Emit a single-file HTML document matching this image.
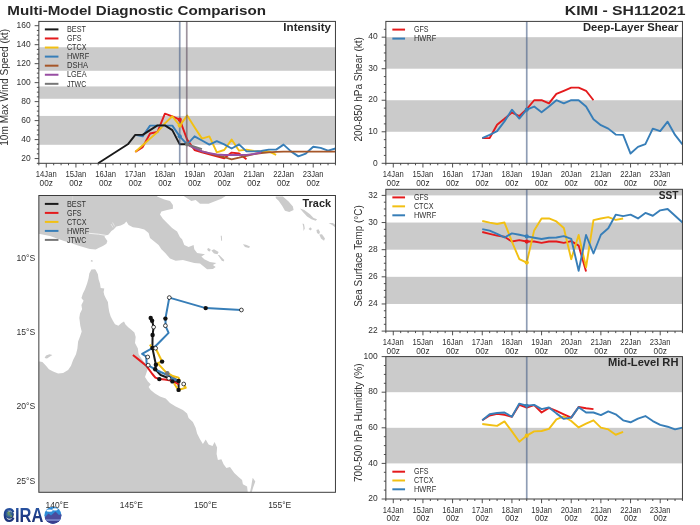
<!DOCTYPE html>
<html><head><meta charset="utf-8"><title>Multi-Model Diagnostic Comparison - KIMI SH112021</title>
<style>
html,body{margin:0;padding:0;background:#fff;}
body{width:700px;height:525px;overflow:hidden;}
svg{display:block;font-family:"Liberation Sans",sans-serif;transform:translateZ(0);will-change:transform;}
</style></head><body>
<svg width="700" height="525" viewBox="0 0 700 525">
<rect x="0" y="0" width="700" height="525" fill="#ffffff"/>
<text x="7.30" y="14.70" font-size="13.67" text-anchor="start" textLength="258.72" lengthAdjust="spacingAndGlyphs" fill="#262626" font-weight="bold">Multi-Model Diagnostic Comparison</text>
<text x="685.60" y="14.70" font-size="13.67" text-anchor="end" textLength="120.71" lengthAdjust="spacingAndGlyphs" fill="#262626" font-weight="bold">KIMI - SH112021</text>
<rect x="38.85" y="115.94" width="296.60" height="28.85" fill="#cbcbcb"/>
<rect x="38.85" y="86.43" width="296.60" height="12.34" fill="#cbcbcb"/>
<rect x="38.85" y="47.24" width="296.60" height="23.54" fill="#cbcbcb"/>
<path d="M135.25 151.91 L142.66 147.17 L150.07 133.50 L157.49 131.98 L164.91 113.67 L172.32 116.32 L179.73 119.65 L187.15 139.58 L194.56 150.01 L201.98 152.39 L209.39 154.28 L216.81 156.37 L224.22 158.27 L231.64 152.58 L239.06 153.53 L246.47 159.31" stroke="#e41a1c" stroke-width="1.9" fill="none" stroke-linejoin="round" stroke-linecap="butt" />
<path d="M135.25 151.91 L142.66 145.27 L150.07 138.63 L157.49 131.98 L164.91 123.44 L172.32 116.23 L179.73 125.62 L187.15 115.57 L194.56 127.24 L201.98 138.63 L209.39 136.35 L216.81 152.39 L224.22 150.01 L231.64 139.58 L239.06 150.68 L246.47 149.63 L253.88 150.96 L261.30 151.44 L268.72 151.44 L276.13 154.76" stroke="#f2c013" stroke-width="1.9" fill="none" stroke-linejoin="round" stroke-linecap="butt" />
<path d="M135.25 134.83 L142.66 136.35 L150.07 125.62 L157.49 125.62 L164.91 125.62 L172.32 125.62 L179.73 136.35 L187.15 144.32 L194.56 136.35 L201.98 140.52 L209.39 144.60 L216.81 141.09 L224.22 144.32 L231.64 148.50 L239.06 144.32 L246.47 151.34 L253.88 151.34 L261.30 150.96 L268.72 149.63 L276.13 149.63 L283.55 144.60 L290.96 151.34 L298.38 156.37 L305.79 153.53 L313.21 146.79 L320.62 147.83 L328.04 150.68 L335.45 148.50" stroke="#377eb8" stroke-width="1.9" fill="none" stroke-linejoin="round" stroke-linecap="butt" />
<path d="M187.15 144.32 L194.56 148.12 L201.98 151.34 L209.39 153.34 L216.81 155.23 L224.22 157.13 L231.64 159.31 L239.06 157.61 L246.47 155.71 L253.88 154.09 L261.30 153.05 L268.72 152.39 L276.13 151.91 L283.55 151.63 L290.96 151.63 L298.38 151.63 L305.79 151.63 L313.21 151.63 L320.62 151.63 L328.04 151.63 L335.45 151.63" stroke="#a65628" stroke-width="1.9" fill="none" stroke-linejoin="round" stroke-linecap="butt" />
<path d="M187.15 144.32 L194.56 148.12 L201.98 151.34 L209.39 153.15 L216.81 154.47 L224.22 154.95 L231.64 154.95 L239.06 154.95 L246.47 154.85 L253.88 154.00 L261.30 152.39" stroke="#984ea3" stroke-width="1.9" fill="none" stroke-linejoin="round" stroke-linecap="butt" />
<path d="M187.15 144.32 L194.56 146.69 L201.98 149.06" stroke="#777777" stroke-width="1.9" fill="none" stroke-linejoin="round" stroke-linecap="butt" />
<path d="M98.17 163.30 L105.59 158.56 L113.00 153.81 L120.41 149.06 L127.83 144.32 L135.25 134.83 L142.66 134.83 L150.07 130.09 L157.49 125.34 L164.91 125.34 L172.32 130.09 L179.73 144.32 L187.15 144.32" stroke="#1a1a1a" stroke-width="1.9" fill="none" stroke-linejoin="round" stroke-linecap="butt" />
<path d="M179.73 21.40V163.30" stroke="rgba(78,100,138,0.63)" stroke-width="1.7" fill="none"/>
<path d="M186.75 21.40V163.30" stroke="rgba(98,82,98,0.62)" stroke-width="1.7" fill="none"/>
<circle cx="179.73" cy="119.65" r="2.1" fill="#e41a1c"/>
<circle cx="179.73" cy="125.62" r="2.1" fill="#f2c013"/>
<circle cx="179.73" cy="136.35" r="2.1" fill="#377eb8"/>
<circle cx="187.15" cy="144.32" r="2.1" fill="#777777"/>
<rect x="38.85" y="21.40" width="296.60" height="141.90" fill="none" stroke="#3c3c3c" stroke-width="1"/>
<path d="M38.85 163.30v2.0M46.27 163.30v4.2M53.68 163.30v2.0M61.09 163.30v2.0M68.51 163.30v2.0M75.93 163.30v4.2M83.34 163.30v2.0M90.75 163.30v2.0M98.17 163.30v2.0M105.59 163.30v4.2M113.00 163.30v2.0M120.41 163.30v2.0M127.83 163.30v2.0M135.25 163.30v4.2M142.66 163.30v2.0M150.07 163.30v2.0M157.49 163.30v2.0M164.91 163.30v4.2M172.32 163.30v2.0M179.73 163.30v2.0M187.15 163.30v2.0M194.56 163.30v4.2M201.98 163.30v2.0M209.39 163.30v2.0M216.81 163.30v2.0M224.22 163.30v4.2M231.64 163.30v2.0M239.06 163.30v2.0M246.47 163.30v2.0M253.88 163.30v4.2M261.30 163.30v2.0M268.72 163.30v2.0M276.13 163.30v2.0M283.55 163.30v4.2M290.96 163.30v2.0M298.38 163.30v2.0M305.79 163.30v2.0M313.21 163.30v4.2M320.62 163.30v2.0M328.04 163.30v2.0M335.45 163.30v2.0" stroke="#3c3c3c" stroke-width="0.9" fill="none"/>
<text x="46.27" y="176.80" font-size="8.36" text-anchor="middle" textLength="20.82" lengthAdjust="spacingAndGlyphs" fill="#303030">14Jan</text>
<text x="46.27" y="185.70" font-size="8.36" text-anchor="middle" textLength="13.30" lengthAdjust="spacingAndGlyphs" fill="#303030">00z</text>
<text x="75.93" y="176.80" font-size="8.36" text-anchor="middle" textLength="20.82" lengthAdjust="spacingAndGlyphs" fill="#303030">15Jan</text>
<text x="75.93" y="185.70" font-size="8.36" text-anchor="middle" textLength="13.30" lengthAdjust="spacingAndGlyphs" fill="#303030">00z</text>
<text x="105.59" y="176.80" font-size="8.36" text-anchor="middle" textLength="20.82" lengthAdjust="spacingAndGlyphs" fill="#303030">16Jan</text>
<text x="105.59" y="185.70" font-size="8.36" text-anchor="middle" textLength="13.30" lengthAdjust="spacingAndGlyphs" fill="#303030">00z</text>
<text x="135.25" y="176.80" font-size="8.36" text-anchor="middle" textLength="20.82" lengthAdjust="spacingAndGlyphs" fill="#303030">17Jan</text>
<text x="135.25" y="185.70" font-size="8.36" text-anchor="middle" textLength="13.30" lengthAdjust="spacingAndGlyphs" fill="#303030">00z</text>
<text x="164.91" y="176.80" font-size="8.36" text-anchor="middle" textLength="20.82" lengthAdjust="spacingAndGlyphs" fill="#303030">18Jan</text>
<text x="164.91" y="185.70" font-size="8.36" text-anchor="middle" textLength="13.30" lengthAdjust="spacingAndGlyphs" fill="#303030">00z</text>
<text x="194.56" y="176.80" font-size="8.36" text-anchor="middle" textLength="20.82" lengthAdjust="spacingAndGlyphs" fill="#303030">19Jan</text>
<text x="194.56" y="185.70" font-size="8.36" text-anchor="middle" textLength="13.30" lengthAdjust="spacingAndGlyphs" fill="#303030">00z</text>
<text x="224.22" y="176.80" font-size="8.36" text-anchor="middle" textLength="20.82" lengthAdjust="spacingAndGlyphs" fill="#303030">20Jan</text>
<text x="224.22" y="185.70" font-size="8.36" text-anchor="middle" textLength="13.30" lengthAdjust="spacingAndGlyphs" fill="#303030">00z</text>
<text x="253.88" y="176.80" font-size="8.36" text-anchor="middle" textLength="20.82" lengthAdjust="spacingAndGlyphs" fill="#303030">21Jan</text>
<text x="253.88" y="185.70" font-size="8.36" text-anchor="middle" textLength="13.30" lengthAdjust="spacingAndGlyphs" fill="#303030">00z</text>
<text x="283.55" y="176.80" font-size="8.36" text-anchor="middle" textLength="20.82" lengthAdjust="spacingAndGlyphs" fill="#303030">22Jan</text>
<text x="283.55" y="185.70" font-size="8.36" text-anchor="middle" textLength="13.30" lengthAdjust="spacingAndGlyphs" fill="#303030">00z</text>
<text x="313.21" y="176.80" font-size="8.36" text-anchor="middle" textLength="20.82" lengthAdjust="spacingAndGlyphs" fill="#303030">23Jan</text>
<text x="313.21" y="185.70" font-size="8.36" text-anchor="middle" textLength="13.30" lengthAdjust="spacingAndGlyphs" fill="#303030">00z</text>
<path d="M38.85 158.56h-4.2M38.85 139.58h-4.2M38.85 120.60h-4.2M38.85 101.62h-4.2M38.85 82.64h-4.2M38.85 63.66h-4.2M38.85 44.68h-4.2M38.85 25.70h-4.2M38.85 163.30h-2.0M38.85 153.81h-2.0M38.85 149.06h-2.0M38.85 144.32h-2.0M38.85 134.83h-2.0M38.85 130.09h-2.0M38.85 125.34h-2.0M38.85 115.85h-2.0M38.85 111.11h-2.0M38.85 106.36h-2.0M38.85 96.87h-2.0M38.85 92.13h-2.0M38.85 87.38h-2.0M38.85 77.89h-2.0M38.85 73.15h-2.0M38.85 68.40h-2.0M38.85 58.91h-2.0M38.85 54.17h-2.0M38.85 49.42h-2.0M38.85 39.93h-2.0M38.85 35.19h-2.0M38.85 30.44h-2.0" stroke="#3c3c3c" stroke-width="0.9" fill="none"/>
<text x="30.65" y="160.75" font-size="8.36" text-anchor="end" textLength="9.42" lengthAdjust="spacingAndGlyphs" fill="#303030">20</text>
<text x="30.65" y="141.78" font-size="8.36" text-anchor="end" textLength="9.42" lengthAdjust="spacingAndGlyphs" fill="#303030">40</text>
<text x="30.65" y="122.80" font-size="8.36" text-anchor="end" textLength="9.42" lengthAdjust="spacingAndGlyphs" fill="#303030">60</text>
<text x="30.65" y="103.82" font-size="8.36" text-anchor="end" textLength="9.42" lengthAdjust="spacingAndGlyphs" fill="#303030">80</text>
<text x="30.65" y="84.84" font-size="8.36" text-anchor="end" textLength="14.12" lengthAdjust="spacingAndGlyphs" fill="#303030">100</text>
<text x="30.65" y="65.86" font-size="8.36" text-anchor="end" textLength="14.12" lengthAdjust="spacingAndGlyphs" fill="#303030">120</text>
<text x="30.65" y="46.88" font-size="8.36" text-anchor="end" textLength="14.12" lengthAdjust="spacingAndGlyphs" fill="#303030">140</text>
<text x="30.65" y="27.90" font-size="8.36" text-anchor="end" textLength="14.12" lengthAdjust="spacingAndGlyphs" fill="#303030">160</text>
<path d="M44.85 29.40H58.45" stroke="#1a1a1a" stroke-width="2.0" fill="none"/>
<text x="66.95" y="32.10" font-size="8.36" text-anchor="start" textLength="18.97" lengthAdjust="spacingAndGlyphs" fill="#303030">BEST</text>
<path d="M44.85 38.47H58.45" stroke="#e41a1c" stroke-width="2.0" fill="none"/>
<text x="66.95" y="41.17" font-size="8.36" text-anchor="start" textLength="14.56" lengthAdjust="spacingAndGlyphs" fill="#303030">GFS</text>
<path d="M44.85 47.54H58.45" stroke="#f2c013" stroke-width="2.0" fill="none"/>
<text x="66.95" y="50.24" font-size="8.36" text-anchor="start" textLength="19.49" lengthAdjust="spacingAndGlyphs" fill="#303030">CTCX</text>
<path d="M44.85 56.61H58.45" stroke="#377eb8" stroke-width="2.0" fill="none"/>
<text x="66.95" y="59.31" font-size="8.36" text-anchor="start" textLength="22.28" lengthAdjust="spacingAndGlyphs" fill="#303030">HWRF</text>
<path d="M44.85 65.68H58.45" stroke="#a65628" stroke-width="2.0" fill="none"/>
<text x="66.95" y="68.38" font-size="8.36" text-anchor="start" textLength="21.02" lengthAdjust="spacingAndGlyphs" fill="#303030">DSHA</text>
<path d="M44.85 74.75H58.45" stroke="#984ea3" stroke-width="2.0" fill="none"/>
<text x="66.95" y="77.45" font-size="8.36" text-anchor="start" textLength="19.59" lengthAdjust="spacingAndGlyphs" fill="#303030">LGEA</text>
<path d="M44.85 83.82H58.45" stroke="#777777" stroke-width="2.0" fill="none"/>
<text x="66.95" y="86.52" font-size="8.36" text-anchor="start" textLength="19.19" lengthAdjust="spacingAndGlyphs" fill="#303030">JTWC</text>
<text x="331.05" y="30.60" font-size="10.36" text-anchor="end" textLength="47.69" lengthAdjust="spacingAndGlyphs" fill="#262626" font-weight="bold">Intensity</text>
<text x="8.10" y="87.40" font-size="10.17" text-anchor="middle" textLength="116.86" lengthAdjust="spacingAndGlyphs" fill="#303030" transform="rotate(-90 8.10 87.40)">10m Max Wind Speed (kt)</text>
<rect x="385.85" y="100.24" width="296.60" height="31.53" fill="#cbcbcb"/>
<rect x="385.85" y="37.18" width="296.60" height="31.53" fill="#cbcbcb"/>
<path d="M482.25 138.08 L489.66 138.08 L497.08 124.83 L504.49 118.84 L511.91 112.54 L519.32 116.01 L526.74 109.07 L534.15 100.24 L541.57 100.24 L548.98 103.39 L556.39 93.93 L563.81 90.78 L571.23 87.63 L578.64 87.63 L586.06 90.78 L593.47 100.24" stroke="#e41a1c" stroke-width="1.9" fill="none" stroke-linejoin="round" stroke-linecap="butt" />
<path d="M482.25 138.08 L489.66 134.92 L497.08 131.14 L504.49 121.37 L511.91 109.70 L519.32 118.53 L526.74 109.70 L534.15 106.55 L541.57 112.22 L548.98 106.55 L556.39 100.24 L563.81 103.39 L571.23 100.24 L578.64 100.24 L586.06 106.55 L593.47 119.16 L600.88 125.15 L608.30 128.62 L615.72 134.61 L623.13 134.92 L630.55 153.53 L637.96 146.90 L645.38 144.07 L652.79 128.62 L660.21 131.14 L667.62 121.68 L675.04 134.92 L682.45 144.38" stroke="#377eb8" stroke-width="1.9" fill="none" stroke-linejoin="round" stroke-linecap="butt" />
<path d="M526.74 21.40V163.30" stroke="rgba(78,100,138,0.63)" stroke-width="1.7" fill="none"/>
<circle cx="526.74" cy="109.70" r="2.1" fill="#377eb8"/>
<rect x="385.85" y="21.40" width="296.60" height="141.90" fill="none" stroke="#3c3c3c" stroke-width="1"/>
<path d="M385.85 163.30v2.0M393.27 163.30v4.2M400.68 163.30v2.0M408.10 163.30v2.0M415.51 163.30v2.0M422.93 163.30v4.2M430.34 163.30v2.0M437.75 163.30v2.0M445.17 163.30v2.0M452.59 163.30v4.2M460.00 163.30v2.0M467.42 163.30v2.0M474.83 163.30v2.0M482.25 163.30v4.2M489.66 163.30v2.0M497.08 163.30v2.0M504.49 163.30v2.0M511.91 163.30v4.2M519.32 163.30v2.0M526.74 163.30v2.0M534.15 163.30v2.0M541.57 163.30v4.2M548.98 163.30v2.0M556.39 163.30v2.0M563.81 163.30v2.0M571.23 163.30v4.2M578.64 163.30v2.0M586.06 163.30v2.0M593.47 163.30v2.0M600.88 163.30v4.2M608.30 163.30v2.0M615.72 163.30v2.0M623.13 163.30v2.0M630.55 163.30v4.2M637.96 163.30v2.0M645.38 163.30v2.0M652.79 163.30v2.0M660.21 163.30v4.2M667.62 163.30v2.0M675.04 163.30v2.0M682.45 163.30v2.0" stroke="#3c3c3c" stroke-width="0.9" fill="none"/>
<text x="393.27" y="176.80" font-size="8.36" text-anchor="middle" textLength="20.82" lengthAdjust="spacingAndGlyphs" fill="#303030">14Jan</text>
<text x="393.27" y="185.70" font-size="8.36" text-anchor="middle" textLength="13.30" lengthAdjust="spacingAndGlyphs" fill="#303030">00z</text>
<text x="422.93" y="176.80" font-size="8.36" text-anchor="middle" textLength="20.82" lengthAdjust="spacingAndGlyphs" fill="#303030">15Jan</text>
<text x="422.93" y="185.70" font-size="8.36" text-anchor="middle" textLength="13.30" lengthAdjust="spacingAndGlyphs" fill="#303030">00z</text>
<text x="452.59" y="176.80" font-size="8.36" text-anchor="middle" textLength="20.82" lengthAdjust="spacingAndGlyphs" fill="#303030">16Jan</text>
<text x="452.59" y="185.70" font-size="8.36" text-anchor="middle" textLength="13.30" lengthAdjust="spacingAndGlyphs" fill="#303030">00z</text>
<text x="482.25" y="176.80" font-size="8.36" text-anchor="middle" textLength="20.82" lengthAdjust="spacingAndGlyphs" fill="#303030">17Jan</text>
<text x="482.25" y="185.70" font-size="8.36" text-anchor="middle" textLength="13.30" lengthAdjust="spacingAndGlyphs" fill="#303030">00z</text>
<text x="511.91" y="176.80" font-size="8.36" text-anchor="middle" textLength="20.82" lengthAdjust="spacingAndGlyphs" fill="#303030">18Jan</text>
<text x="511.91" y="185.70" font-size="8.36" text-anchor="middle" textLength="13.30" lengthAdjust="spacingAndGlyphs" fill="#303030">00z</text>
<text x="541.57" y="176.80" font-size="8.36" text-anchor="middle" textLength="20.82" lengthAdjust="spacingAndGlyphs" fill="#303030">19Jan</text>
<text x="541.57" y="185.70" font-size="8.36" text-anchor="middle" textLength="13.30" lengthAdjust="spacingAndGlyphs" fill="#303030">00z</text>
<text x="571.23" y="176.80" font-size="8.36" text-anchor="middle" textLength="20.82" lengthAdjust="spacingAndGlyphs" fill="#303030">20Jan</text>
<text x="571.23" y="185.70" font-size="8.36" text-anchor="middle" textLength="13.30" lengthAdjust="spacingAndGlyphs" fill="#303030">00z</text>
<text x="600.88" y="176.80" font-size="8.36" text-anchor="middle" textLength="20.82" lengthAdjust="spacingAndGlyphs" fill="#303030">21Jan</text>
<text x="600.88" y="185.70" font-size="8.36" text-anchor="middle" textLength="13.30" lengthAdjust="spacingAndGlyphs" fill="#303030">00z</text>
<text x="630.55" y="176.80" font-size="8.36" text-anchor="middle" textLength="20.82" lengthAdjust="spacingAndGlyphs" fill="#303030">22Jan</text>
<text x="630.55" y="185.70" font-size="8.36" text-anchor="middle" textLength="13.30" lengthAdjust="spacingAndGlyphs" fill="#303030">00z</text>
<text x="660.21" y="176.80" font-size="8.36" text-anchor="middle" textLength="20.82" lengthAdjust="spacingAndGlyphs" fill="#303030">23Jan</text>
<text x="660.21" y="185.70" font-size="8.36" text-anchor="middle" textLength="13.30" lengthAdjust="spacingAndGlyphs" fill="#303030">00z</text>
<path d="M385.85 163.30h-4.2M385.85 131.77h-4.2M385.85 100.24h-4.2M385.85 68.71h-4.2M385.85 37.18h-4.2M385.85 155.42h-2.0M385.85 147.54h-2.0M385.85 139.65h-2.0M385.85 123.89h-2.0M385.85 116.01h-2.0M385.85 108.12h-2.0M385.85 92.36h-2.0M385.85 84.48h-2.0M385.85 76.59h-2.0M385.85 60.83h-2.0M385.85 52.95h-2.0M385.85 45.06h-2.0M385.85 29.30h-2.0" stroke="#3c3c3c" stroke-width="0.9" fill="none"/>
<text x="377.65" y="165.50" font-size="8.36" text-anchor="end" textLength="4.71" lengthAdjust="spacingAndGlyphs" fill="#303030">0</text>
<text x="377.65" y="133.97" font-size="8.36" text-anchor="end" textLength="9.42" lengthAdjust="spacingAndGlyphs" fill="#303030">10</text>
<text x="377.65" y="102.44" font-size="8.36" text-anchor="end" textLength="9.42" lengthAdjust="spacingAndGlyphs" fill="#303030">20</text>
<text x="377.65" y="70.91" font-size="8.36" text-anchor="end" textLength="9.42" lengthAdjust="spacingAndGlyphs" fill="#303030">30</text>
<text x="377.65" y="39.38" font-size="8.36" text-anchor="end" textLength="9.42" lengthAdjust="spacingAndGlyphs" fill="#303030">40</text>
<path d="M392.35 29.60H405.05" stroke="#e41a1c" stroke-width="2.0" fill="none"/>
<text x="413.95" y="32.30" font-size="8.36" text-anchor="start" textLength="14.56" lengthAdjust="spacingAndGlyphs" fill="#303030">GFS</text>
<path d="M392.35 38.60H405.05" stroke="#377eb8" stroke-width="2.0" fill="none"/>
<text x="413.95" y="41.30" font-size="8.36" text-anchor="start" textLength="22.28" lengthAdjust="spacingAndGlyphs" fill="#303030">HWRF</text>
<text x="678.45" y="30.60" font-size="10.36" text-anchor="end" textLength="95.46" lengthAdjust="spacingAndGlyphs" fill="#262626" font-weight="bold">Deep-Layer Shear</text>
<text x="361.90" y="89.30" font-size="10.17" text-anchor="middle" textLength="104.36" lengthAdjust="spacingAndGlyphs" fill="#303030" transform="rotate(-90 361.90 89.30)">200-850 hPa Shear (kt)</text>
<rect x="385.85" y="276.82" width="296.60" height="27.14" fill="#cbcbcb"/>
<rect x="385.85" y="222.54" width="296.60" height="27.14" fill="#cbcbcb"/>
<rect x="385.85" y="189.30" width="296.60" height="6.10" fill="#cbcbcb"/>
<path d="M482.25 232.04 L489.66 233.80 L497.08 235.57 L504.49 236.79 L511.91 241.54 L519.32 240.18 L526.74 241.54 L534.15 241.54 L541.57 242.90 L548.98 241.54 L556.39 241.54 L563.81 242.90 L571.23 241.13 L578.64 245.61 L586.06 271.39" stroke="#e41a1c" stroke-width="1.9" fill="none" stroke-linejoin="round" stroke-linecap="butt" />
<path d="M482.25 221.05 L489.66 222.68 L497.08 224.03 L504.49 222.54 L511.91 241.54 L519.32 259.18 L526.74 262.57 L534.15 230.41 L541.57 218.47 L548.98 218.47 L556.39 221.45 L563.81 227.97 L571.23 259.18 L578.64 235.02 L586.06 267.32 L593.47 220.10 L600.88 218.47 L608.30 217.11 L615.72 219.83 L623.13 218.47" stroke="#f2c013" stroke-width="1.9" fill="none" stroke-linejoin="round" stroke-linecap="butt" />
<path d="M482.25 229.19 L489.66 230.68 L497.08 233.80 L504.49 237.47 L511.91 233.40 L519.32 234.75 L526.74 236.38 L534.15 237.74 L541.57 238.96 L548.98 237.74 L556.39 237.47 L563.81 236.11 L571.23 238.82 L578.64 270.71 L586.06 235.02 L593.47 253.48 L600.88 234.75 L608.30 228.24 L615.72 214.67 L623.13 216.16 L630.55 214.67 L637.96 218.47 L645.38 212.91 L652.79 215.76 L660.21 210.33 L667.62 208.97 L675.04 215.76 L682.45 222.54" stroke="#377eb8" stroke-width="1.9" fill="none" stroke-linejoin="round" stroke-linecap="butt" />
<path d="M526.74 189.30V331.10" stroke="rgba(78,100,138,0.63)" stroke-width="1.7" fill="none"/>
<circle cx="526.74" cy="241.54" r="2.1" fill="#e41a1c"/>
<circle cx="526.74" cy="262.57" r="2.1" fill="#f2c013"/>
<circle cx="526.74" cy="236.38" r="2.1" fill="#377eb8"/>
<rect x="385.85" y="189.30" width="296.60" height="141.80" fill="none" stroke="#3c3c3c" stroke-width="1"/>
<path d="M385.85 331.10v2.0M393.27 331.10v4.2M400.68 331.10v2.0M408.10 331.10v2.0M415.51 331.10v2.0M422.93 331.10v4.2M430.34 331.10v2.0M437.75 331.10v2.0M445.17 331.10v2.0M452.59 331.10v4.2M460.00 331.10v2.0M467.42 331.10v2.0M474.83 331.10v2.0M482.25 331.10v4.2M489.66 331.10v2.0M497.08 331.10v2.0M504.49 331.10v2.0M511.91 331.10v4.2M519.32 331.10v2.0M526.74 331.10v2.0M534.15 331.10v2.0M541.57 331.10v4.2M548.98 331.10v2.0M556.39 331.10v2.0M563.81 331.10v2.0M571.23 331.10v4.2M578.64 331.10v2.0M586.06 331.10v2.0M593.47 331.10v2.0M600.88 331.10v4.2M608.30 331.10v2.0M615.72 331.10v2.0M623.13 331.10v2.0M630.55 331.10v4.2M637.96 331.10v2.0M645.38 331.10v2.0M652.79 331.10v2.0M660.21 331.10v4.2M667.62 331.10v2.0M675.04 331.10v2.0M682.45 331.10v2.0" stroke="#3c3c3c" stroke-width="0.9" fill="none"/>
<text x="393.27" y="344.60" font-size="8.36" text-anchor="middle" textLength="20.82" lengthAdjust="spacingAndGlyphs" fill="#303030">14Jan</text>
<text x="393.27" y="353.50" font-size="8.36" text-anchor="middle" textLength="13.30" lengthAdjust="spacingAndGlyphs" fill="#303030">00z</text>
<text x="422.93" y="344.60" font-size="8.36" text-anchor="middle" textLength="20.82" lengthAdjust="spacingAndGlyphs" fill="#303030">15Jan</text>
<text x="422.93" y="353.50" font-size="8.36" text-anchor="middle" textLength="13.30" lengthAdjust="spacingAndGlyphs" fill="#303030">00z</text>
<text x="452.59" y="344.60" font-size="8.36" text-anchor="middle" textLength="20.82" lengthAdjust="spacingAndGlyphs" fill="#303030">16Jan</text>
<text x="452.59" y="353.50" font-size="8.36" text-anchor="middle" textLength="13.30" lengthAdjust="spacingAndGlyphs" fill="#303030">00z</text>
<text x="482.25" y="344.60" font-size="8.36" text-anchor="middle" textLength="20.82" lengthAdjust="spacingAndGlyphs" fill="#303030">17Jan</text>
<text x="482.25" y="353.50" font-size="8.36" text-anchor="middle" textLength="13.30" lengthAdjust="spacingAndGlyphs" fill="#303030">00z</text>
<text x="511.91" y="344.60" font-size="8.36" text-anchor="middle" textLength="20.82" lengthAdjust="spacingAndGlyphs" fill="#303030">18Jan</text>
<text x="511.91" y="353.50" font-size="8.36" text-anchor="middle" textLength="13.30" lengthAdjust="spacingAndGlyphs" fill="#303030">00z</text>
<text x="541.57" y="344.60" font-size="8.36" text-anchor="middle" textLength="20.82" lengthAdjust="spacingAndGlyphs" fill="#303030">19Jan</text>
<text x="541.57" y="353.50" font-size="8.36" text-anchor="middle" textLength="13.30" lengthAdjust="spacingAndGlyphs" fill="#303030">00z</text>
<text x="571.23" y="344.60" font-size="8.36" text-anchor="middle" textLength="20.82" lengthAdjust="spacingAndGlyphs" fill="#303030">20Jan</text>
<text x="571.23" y="353.50" font-size="8.36" text-anchor="middle" textLength="13.30" lengthAdjust="spacingAndGlyphs" fill="#303030">00z</text>
<text x="600.88" y="344.60" font-size="8.36" text-anchor="middle" textLength="20.82" lengthAdjust="spacingAndGlyphs" fill="#303030">21Jan</text>
<text x="600.88" y="353.50" font-size="8.36" text-anchor="middle" textLength="13.30" lengthAdjust="spacingAndGlyphs" fill="#303030">00z</text>
<text x="630.55" y="344.60" font-size="8.36" text-anchor="middle" textLength="20.82" lengthAdjust="spacingAndGlyphs" fill="#303030">22Jan</text>
<text x="630.55" y="353.50" font-size="8.36" text-anchor="middle" textLength="13.30" lengthAdjust="spacingAndGlyphs" fill="#303030">00z</text>
<text x="660.21" y="344.60" font-size="8.36" text-anchor="middle" textLength="20.82" lengthAdjust="spacingAndGlyphs" fill="#303030">23Jan</text>
<text x="660.21" y="353.50" font-size="8.36" text-anchor="middle" textLength="13.30" lengthAdjust="spacingAndGlyphs" fill="#303030">00z</text>
<path d="M385.85 331.10h-4.2M385.85 303.96h-4.2M385.85 276.82h-4.2M385.85 249.68h-4.2M385.85 222.54h-4.2M385.85 195.40h-4.2M385.85 324.31h-2.0M385.85 317.53h-2.0M385.85 310.75h-2.0M385.85 297.18h-2.0M385.85 290.39h-2.0M385.85 283.61h-2.0M385.85 270.04h-2.0M385.85 263.25h-2.0M385.85 256.47h-2.0M385.85 242.90h-2.0M385.85 236.11h-2.0M385.85 229.33h-2.0M385.85 215.76h-2.0M385.85 208.97h-2.0M385.85 202.19h-2.0" stroke="#3c3c3c" stroke-width="0.9" fill="none"/>
<text x="377.65" y="333.30" font-size="8.36" text-anchor="end" textLength="9.42" lengthAdjust="spacingAndGlyphs" fill="#303030">22</text>
<text x="377.65" y="306.16" font-size="8.36" text-anchor="end" textLength="9.42" lengthAdjust="spacingAndGlyphs" fill="#303030">24</text>
<text x="377.65" y="279.02" font-size="8.36" text-anchor="end" textLength="9.42" lengthAdjust="spacingAndGlyphs" fill="#303030">26</text>
<text x="377.65" y="251.88" font-size="8.36" text-anchor="end" textLength="9.42" lengthAdjust="spacingAndGlyphs" fill="#303030">28</text>
<text x="377.65" y="224.74" font-size="8.36" text-anchor="end" textLength="9.42" lengthAdjust="spacingAndGlyphs" fill="#303030">30</text>
<text x="377.65" y="197.60" font-size="8.36" text-anchor="end" textLength="9.42" lengthAdjust="spacingAndGlyphs" fill="#303030">32</text>
<path d="M392.35 197.40H405.05" stroke="#e41a1c" stroke-width="2.0" fill="none"/>
<text x="413.95" y="200.10" font-size="8.36" text-anchor="start" textLength="14.56" lengthAdjust="spacingAndGlyphs" fill="#303030">GFS</text>
<path d="M392.35 206.35H405.05" stroke="#f2c013" stroke-width="2.0" fill="none"/>
<text x="413.95" y="209.05" font-size="8.36" text-anchor="start" textLength="19.49" lengthAdjust="spacingAndGlyphs" fill="#303030">CTCX</text>
<path d="M392.35 215.30H405.05" stroke="#377eb8" stroke-width="2.0" fill="none"/>
<text x="413.95" y="218.00" font-size="8.36" text-anchor="start" textLength="22.28" lengthAdjust="spacingAndGlyphs" fill="#303030">HWRF</text>
<text x="678.45" y="198.50" font-size="10.36" text-anchor="end" textLength="19.74" lengthAdjust="spacingAndGlyphs" fill="#262626" font-weight="bold">SST</text>
<text x="361.90" y="256.00" font-size="10.17" text-anchor="middle" textLength="101.43" lengthAdjust="spacingAndGlyphs" fill="#303030" transform="rotate(-90 361.90 256.00)">Sea Surface Temp (°C)</text>
<rect x="385.85" y="427.80" width="296.60" height="35.60" fill="#cbcbcb"/>
<rect x="385.85" y="356.60" width="296.60" height="35.60" fill="#cbcbcb"/>
<path d="M482.25 420.32 L489.66 415.52 L497.08 413.92 L504.49 414.81 L511.91 416.76 L519.32 404.84 L526.74 407.51 L534.15 405.19 L541.57 412.49 L548.98 407.86 L556.39 410.89 L563.81 414.27 L571.23 417.65 L578.64 406.97 L586.06 408.22 L593.47 409.11" stroke="#e41a1c" stroke-width="1.9" fill="none" stroke-linejoin="round" stroke-linecap="butt" />
<path d="M482.25 424.06 L489.66 424.95 L497.08 425.84 L504.49 421.39 L511.91 431.36 L519.32 441.68 L526.74 435.63 L534.15 431.36 L541.57 431.00 L548.98 428.87 L556.39 419.43 L563.81 416.41 L571.23 421.04 L578.64 427.44 L586.06 423.71 L593.47 420.32 L600.88 427.62 L608.30 429.40 L615.72 434.74 L623.13 431.89" stroke="#f2c013" stroke-width="1.9" fill="none" stroke-linejoin="round" stroke-linecap="butt" />
<path d="M482.25 420.32 L489.66 414.27 L497.08 413.03 L504.49 412.49 L511.91 416.76 L519.32 403.59 L526.74 405.73 L534.15 404.84 L541.57 409.11 L548.98 407.51 L556.39 413.38 L563.81 418.90 L571.23 417.65 L578.64 407.15 L586.06 412.49 L593.47 412.49 L600.88 415.16 L608.30 411.42 L615.72 414.27 L623.13 420.32 L630.55 422.28 L637.96 418.54 L645.38 416.05 L652.79 421.04 L660.21 424.95 L667.62 426.73 L675.04 429.40 L682.45 427.62" stroke="#377eb8" stroke-width="1.9" fill="none" stroke-linejoin="round" stroke-linecap="butt" />
<path d="M526.74 356.60V499.00" stroke="rgba(78,100,138,0.63)" stroke-width="1.7" fill="none"/>
<circle cx="526.74" cy="435.63" r="2.1" fill="#f2c013"/>
<circle cx="526.74" cy="405.73" r="2.1" fill="#377eb8"/>
<rect x="385.85" y="356.60" width="296.60" height="142.40" fill="none" stroke="#3c3c3c" stroke-width="1"/>
<path d="M385.85 499.00v2.0M393.27 499.00v4.2M400.68 499.00v2.0M408.10 499.00v2.0M415.51 499.00v2.0M422.93 499.00v4.2M430.34 499.00v2.0M437.75 499.00v2.0M445.17 499.00v2.0M452.59 499.00v4.2M460.00 499.00v2.0M467.42 499.00v2.0M474.83 499.00v2.0M482.25 499.00v4.2M489.66 499.00v2.0M497.08 499.00v2.0M504.49 499.00v2.0M511.91 499.00v4.2M519.32 499.00v2.0M526.74 499.00v2.0M534.15 499.00v2.0M541.57 499.00v4.2M548.98 499.00v2.0M556.39 499.00v2.0M563.81 499.00v2.0M571.23 499.00v4.2M578.64 499.00v2.0M586.06 499.00v2.0M593.47 499.00v2.0M600.88 499.00v4.2M608.30 499.00v2.0M615.72 499.00v2.0M623.13 499.00v2.0M630.55 499.00v4.2M637.96 499.00v2.0M645.38 499.00v2.0M652.79 499.00v2.0M660.21 499.00v4.2M667.62 499.00v2.0M675.04 499.00v2.0M682.45 499.00v2.0" stroke="#3c3c3c" stroke-width="0.9" fill="none"/>
<text x="393.27" y="512.50" font-size="8.36" text-anchor="middle" textLength="20.82" lengthAdjust="spacingAndGlyphs" fill="#303030">14Jan</text>
<text x="393.27" y="521.40" font-size="8.36" text-anchor="middle" textLength="13.30" lengthAdjust="spacingAndGlyphs" fill="#303030">00z</text>
<text x="422.93" y="512.50" font-size="8.36" text-anchor="middle" textLength="20.82" lengthAdjust="spacingAndGlyphs" fill="#303030">15Jan</text>
<text x="422.93" y="521.40" font-size="8.36" text-anchor="middle" textLength="13.30" lengthAdjust="spacingAndGlyphs" fill="#303030">00z</text>
<text x="452.59" y="512.50" font-size="8.36" text-anchor="middle" textLength="20.82" lengthAdjust="spacingAndGlyphs" fill="#303030">16Jan</text>
<text x="452.59" y="521.40" font-size="8.36" text-anchor="middle" textLength="13.30" lengthAdjust="spacingAndGlyphs" fill="#303030">00z</text>
<text x="482.25" y="512.50" font-size="8.36" text-anchor="middle" textLength="20.82" lengthAdjust="spacingAndGlyphs" fill="#303030">17Jan</text>
<text x="482.25" y="521.40" font-size="8.36" text-anchor="middle" textLength="13.30" lengthAdjust="spacingAndGlyphs" fill="#303030">00z</text>
<text x="511.91" y="512.50" font-size="8.36" text-anchor="middle" textLength="20.82" lengthAdjust="spacingAndGlyphs" fill="#303030">18Jan</text>
<text x="511.91" y="521.40" font-size="8.36" text-anchor="middle" textLength="13.30" lengthAdjust="spacingAndGlyphs" fill="#303030">00z</text>
<text x="541.57" y="512.50" font-size="8.36" text-anchor="middle" textLength="20.82" lengthAdjust="spacingAndGlyphs" fill="#303030">19Jan</text>
<text x="541.57" y="521.40" font-size="8.36" text-anchor="middle" textLength="13.30" lengthAdjust="spacingAndGlyphs" fill="#303030">00z</text>
<text x="571.23" y="512.50" font-size="8.36" text-anchor="middle" textLength="20.82" lengthAdjust="spacingAndGlyphs" fill="#303030">20Jan</text>
<text x="571.23" y="521.40" font-size="8.36" text-anchor="middle" textLength="13.30" lengthAdjust="spacingAndGlyphs" fill="#303030">00z</text>
<text x="600.88" y="512.50" font-size="8.36" text-anchor="middle" textLength="20.82" lengthAdjust="spacingAndGlyphs" fill="#303030">21Jan</text>
<text x="600.88" y="521.40" font-size="8.36" text-anchor="middle" textLength="13.30" lengthAdjust="spacingAndGlyphs" fill="#303030">00z</text>
<text x="630.55" y="512.50" font-size="8.36" text-anchor="middle" textLength="20.82" lengthAdjust="spacingAndGlyphs" fill="#303030">22Jan</text>
<text x="630.55" y="521.40" font-size="8.36" text-anchor="middle" textLength="13.30" lengthAdjust="spacingAndGlyphs" fill="#303030">00z</text>
<text x="660.21" y="512.50" font-size="8.36" text-anchor="middle" textLength="20.82" lengthAdjust="spacingAndGlyphs" fill="#303030">23Jan</text>
<text x="660.21" y="521.40" font-size="8.36" text-anchor="middle" textLength="13.30" lengthAdjust="spacingAndGlyphs" fill="#303030">00z</text>
<path d="M385.85 499.00h-4.2M385.85 463.40h-4.2M385.85 427.80h-4.2M385.85 392.20h-4.2M385.85 356.60h-4.2M385.85 490.10h-2.0M385.85 481.20h-2.0M385.85 472.30h-2.0M385.85 454.50h-2.0M385.85 445.60h-2.0M385.85 436.70h-2.0M385.85 418.90h-2.0M385.85 410.00h-2.0M385.85 401.10h-2.0M385.85 383.30h-2.0M385.85 374.40h-2.0M385.85 365.50h-2.0" stroke="#3c3c3c" stroke-width="0.9" fill="none"/>
<text x="377.65" y="501.20" font-size="8.36" text-anchor="end" textLength="9.42" lengthAdjust="spacingAndGlyphs" fill="#303030">20</text>
<text x="377.65" y="465.60" font-size="8.36" text-anchor="end" textLength="9.42" lengthAdjust="spacingAndGlyphs" fill="#303030">40</text>
<text x="377.65" y="430.00" font-size="8.36" text-anchor="end" textLength="9.42" lengthAdjust="spacingAndGlyphs" fill="#303030">60</text>
<text x="377.65" y="394.40" font-size="8.36" text-anchor="end" textLength="9.42" lengthAdjust="spacingAndGlyphs" fill="#303030">80</text>
<text x="377.65" y="358.80" font-size="8.36" text-anchor="end" textLength="14.12" lengthAdjust="spacingAndGlyphs" fill="#303030">100</text>
<path d="M392.35 471.70H405.05" stroke="#e41a1c" stroke-width="2.0" fill="none"/>
<text x="413.95" y="474.40" font-size="8.36" text-anchor="start" textLength="14.56" lengthAdjust="spacingAndGlyphs" fill="#303030">GFS</text>
<path d="M392.35 480.50H405.05" stroke="#f2c013" stroke-width="2.0" fill="none"/>
<text x="413.95" y="483.20" font-size="8.36" text-anchor="start" textLength="19.49" lengthAdjust="spacingAndGlyphs" fill="#303030">CTCX</text>
<path d="M392.35 489.30H405.05" stroke="#377eb8" stroke-width="2.0" fill="none"/>
<text x="413.95" y="492.00" font-size="8.36" text-anchor="start" textLength="22.28" lengthAdjust="spacingAndGlyphs" fill="#303030">HWRF</text>
<text x="678.45" y="366.00" font-size="10.36" text-anchor="end" textLength="70.42" lengthAdjust="spacingAndGlyphs" fill="#262626" font-weight="bold">Mid-Level RH</text>
<text x="361.90" y="422.70" font-size="10.17" text-anchor="middle" textLength="118.81" lengthAdjust="spacingAndGlyphs" fill="#303030" transform="rotate(-90 361.90 422.70)">700-500 hPa Humidity (%)</text>
<clipPath id="mapclip"><rect x="38.85" y="195.50" width="296.60" height="296.80"/></clipPath>
<g clip-path="url(#mapclip)">
<path d="M30.0 190.0 L157.1 190.0 L157.1 196.6 L164.3 199.4 L170.0 200.9 L172.9 205.1 L172.9 208.7 L167.1 210.1 L161.4 211.6 L160.0 214.4 L162.9 218.7 L167.1 223.0 L172.1 228.0 L177.1 231.6 L180.0 237.3 L182.1 239.3 L184.3 245.0 L188.6 247.1 L193.6 245.0 L194.3 249.3 L197.1 252.9 L205.0 254.3 L201.4 256.4 L204.3 259.3 L210.0 262.1 L216.4 262.9 L212.9 265.0 L215.7 267.1 L212.9 269.0 L207.1 269.3 L204.3 267.1 L200.0 263.6 L194.3 262.9 L188.6 261.4 L182.9 260.0 L175.7 260.7 L170.0 258.6 L165.7 253.6 L161.4 249.3 L158.6 245.0 L154.3 241.4 L150.0 237.9 L148.6 233.0 L144.3 229.4 L138.6 228.0 L132.9 227.3 L128.6 225.1 L126.4 221.6 L124.3 223.7 L120.7 225.6 L116.4 226.6 L113.6 229.4 L111.4 230.9 L108.6 234.4 L104.3 236.6 L107.4 240.9 L106.4 243.7 L102.9 246.1 L98.6 248.0 L95.7 249.4 L90.0 249.0 L88.0 248.5 L78.0 245.4 L71.0 243.0 L64.0 241.0 L50.0 236.0 L40.0 234.0 L30.0 233.5Z" fill="#cbcbcb" stroke="none"/>
<path d="M184.3 190.0 L184.3 196.6 L191.4 200.9 L195.7 200.1 L200.0 203.7 L208.6 203.7 L214.3 201.6 L221.4 198.7 L225.7 196.1 L226.0 190.0Z" fill="#cbcbcb" stroke="none"/>
<path d="M275.7 196.4 L282.9 196.4 L288.6 201.4 L292.9 206.4 L293.6 210.0 L289.3 212.1 L285.0 210.7 L282.1 205.7 L278.6 200.7 L275.7 197.9Z" fill="#cbcbcb" stroke="none"/>
<path d="M300.0 208.6 L304.3 210.0 L310.0 214.3 L313.6 217.9 L317.1 219.3 L315.7 220.7 L311.4 219.3 L307.1 216.4 L302.9 212.1Z" fill="#cbcbcb" stroke="none"/>
<path d="M328.6 222.9 L332.9 223.1 L336.5 226.0 L336.5 228.0 L332.1 225.0Z" fill="#cbcbcb" stroke="none"/>
<path d="M30.0 361.4 L39.6 361.4 L42.4 362.1 L46.0 365.7 L48.9 369.3 L53.1 371.4 L58.1 373.6 L63.1 372.9 L68.1 370.0 L71.0 365.7 L73.1 360.0 L76.0 354.3 L77.4 348.6 L78.1 341.4 L80.3 335.7 L81.7 331.4 L80.3 325.7 L79.6 320.0 L79.3 317.9 L80.0 313.6 L82.1 309.3 L81.4 305.0 L83.6 300.7 L81.4 297.9 L82.9 293.6 L85.0 289.3 L87.1 283.6 L88.6 277.9 L89.3 273.6 L91.4 269.6 L95.0 269.3 L95.7 270.0 L97.9 274.3 L98.6 279.3 L100.0 283.6 L100.7 287.9 L104.3 288.6 L103.6 292.1 L104.3 295.0 L105.7 297.9 L107.9 302.1 L108.6 307.9 L109.3 312.1 L110.7 316.4 L112.9 320.7 L115.0 324.3 L118.4 325.7 L121.5 322.9 L124.0 321.5 L125.5 324.5 L128.5 327.5 L131.0 329.5 L134.4 332.5 L135.7 337.1 L135.0 342.9 L137.9 348.6 L138.6 354.3 L141.4 358.6 L145.0 362.9 L147.9 368.6 L146.4 372.9 L145.0 377.1 L147.9 381.4 L150.7 384.3 L148.6 387.1 L150.7 390.0 L155.0 393.6 L160.0 396.4 L165.7 398.6 L170.0 402.9 L175.7 406.4 L182.9 410.0 L187.1 413.6 L188.6 417.9 L192.9 422.1 L195.7 427.9 L197.1 433.6 L200.0 439.3 L202.9 444.0 L205.7 439.5 L208.6 444.5 L212.5 446.0 L214.6 442.1 L217.1 447.5 L216.6 454.0 L217.9 460.0 L221.4 459.3 L223.6 464.3 L226.4 467.9 L230.0 467.1 L234.3 472.9 L238.6 477.1 L242.1 480.0 L242.9 484.3 L247.1 486.4 L248.6 500.0 L30.0 500.0Z" fill="#cbcbcb" stroke="none"/>
<path d="M252.7 477.7 L255.3 481.4 L253.3 487.1 L251.2 494.0 L249.6 494.0 L251.2 486.4 L252.0 481.4Z" fill="#cbcbcb" stroke="none"/>
<path d="M44.6 358.0 L46.0 355.5 L49.5 354.3 L52.4 355.0 L50.0 356.5 L47.0 358.6Z" fill="#cbcbcb" stroke="none"/>
<path d="M207.1 249.0 L208.5 247.9 L210.7 249.5 L210.0 251.4 L208.0 251.0Z" fill="#cbcbcb" stroke="none"/>
<path d="M211.4 250.5 L214.0 249.3 L218.6 252.0 L217.5 254.3 L214.0 253.5Z" fill="#cbcbcb" stroke="none"/>
<path d="M217.9 255.0 L219.2 255.0 L224.3 260.0 L223.6 261.4 L221.5 260.3Z" fill="#cbcbcb" stroke="none"/>
<path d="M220.7 235.7 L221.8 235.7 L222.1 240.7 L221.2 240.7Z" fill="#cbcbcb" stroke="none"/>
<path d="M242.9 244.3 L246.0 244.8 L250.0 246.5 L249.0 247.9 L245.0 247.0Z" fill="#cbcbcb" stroke="none"/>
<path d="M310.3 227.2 L312.0 228.9 L310.3 230.6 L308.6 228.9Z" fill="#cbcbcb" stroke="none"/>
<path d="M316.4 230.0 L318.5 229.3 L320.0 232.0 L319.0 234.3 L317.0 233.0Z" fill="#cbcbcb" stroke="none"/>
<path d="M319.3 234.5 L322.0 234.3 L325.0 238.5 L324.0 240.7 L321.0 238.5Z" fill="#cbcbcb" stroke="none"/>
<path d="M302.5 223.5 L304.0 224.0 L304.8 228.5 L303.5 231.0 L303.3 227.0Z" fill="#cbcbcb" stroke="none"/>
<path d="M91.0 260.0 L92.8 260.4 L92.6 261.8 L90.8 261.5Z" fill="#cbcbcb" stroke="none"/>
<path d="M89 233.3 L98.6 234.2 L108.3 235.8" stroke="#ffffff" stroke-width="0.8" fill="none" stroke-opacity="0.9"/>
<path d="M112.6 222.5 L114.6 226.4 M111 224 L113 227.5" stroke="#ffffff" stroke-width="0.6" fill="none" stroke-opacity="0.8"/>
<path d="M72.6 195V243.3" stroke="#ffffff" stroke-opacity="0.35" stroke-width="0.6" fill="none"/>
<path d="M150.70 317.90 L152.10 320.70 L153.60 327.10 L152.60 335.00 L152.40 348.00 L155.90 364.70 L155.20 369.30 L160.60 375.00 L168.80 378.30 L172.40 381.40 L178.60 381.20 L178.60 389.90" stroke="#1a1a1a" stroke-width="2.0" fill="none" stroke-linejoin="round" stroke-linecap="butt" />
<path d="M178.60 381.00 L167.30 373.40" stroke="#777777" stroke-width="2.0" fill="none" stroke-linejoin="round" stroke-linecap="butt" />
<path d="M132.90 355.00 L140.00 360.60 L146.20 365.70 L152.30 374.00 L155.40 377.60 L159.30 379.10 L164.70 379.60 L170.90 380.60 L178.60 384.20" stroke="#e41a1c" stroke-width="2.0" fill="none" stroke-linejoin="round" stroke-linecap="butt" />
<path d="M149.80 344.60 L152.30 348.00" stroke="#f2c013" stroke-width="2.0" fill="none" stroke-linejoin="round" stroke-linecap="butt" />
<path d="M155.60 348.20 L161.10 359.50 L162.10 361.60 L157.50 363.10 L165.70 371.90 L172.90 376.00 L178.60 377.60 L179.60 380.60" stroke="#f2c013" stroke-width="2.0" fill="none" stroke-linejoin="round" stroke-linecap="butt" />
<path d="M174.00 383.20 L176.50 387.30 L178.60 389.90 L185.80 387.80 L183.70 384.00" stroke="#f2c013" stroke-width="2.0" fill="none" stroke-linejoin="round" stroke-linecap="butt" />
<path d="M178.60 381.00 L172.90 379.00 L167.30 375.00 L160.60 372.00 L155.20 369.30 L148.70 365.70 L146.70 364.70 L146.20 356.50 L142.10 353.90 L152.30 348.20 L155.40 346.20 L161.60 340.00 L168.60 332.90 L165.70 326.40 L165.40 318.60 L169.30 297.60 L205.70 308.10 L241.40 310.00" stroke="#377eb8" stroke-width="2.0" fill="none" stroke-linejoin="round" stroke-linecap="butt" />
<circle cx="150.7" cy="317.9" r="2.2" fill="#111"/>
<circle cx="152.1" cy="320.7" r="2.2" fill="#111"/>
<circle cx="152.6" cy="335.0" r="2.2" fill="#111"/>
<circle cx="152.4" cy="348.0" r="2.2" fill="#111"/>
<circle cx="162.1" cy="361.6" r="2.2" fill="#111"/>
<circle cx="155.9" cy="364.7" r="2.2" fill="#111"/>
<circle cx="155.2" cy="369.3" r="2.2" fill="#111"/>
<circle cx="159.3" cy="379.1" r="2.2" fill="#111"/>
<circle cx="172.4" cy="381.4" r="2.2" fill="#111"/>
<circle cx="178.6" cy="381.0" r="2.2" fill="#111"/>
<circle cx="178.6" cy="389.9" r="2.2" fill="#111"/>
<circle cx="165.4" cy="318.6" r="2.2" fill="#111"/>
<circle cx="205.7" cy="308.1" r="2.2" fill="#111"/>
<circle cx="153.6" cy="327.1" r="1.9" fill="#fff" stroke="#111" stroke-width="0.8"/>
<circle cx="155.6" cy="348.2" r="1.9" fill="#fff" stroke="#111" stroke-width="0.8"/>
<circle cx="147.7" cy="357.0" r="1.9" fill="#fff" stroke="#111" stroke-width="0.8"/>
<circle cx="148.2" cy="365.2" r="1.9" fill="#fff" stroke="#111" stroke-width="0.8"/>
<circle cx="168.8" cy="378.3" r="1.9" fill="#fff" stroke="#111" stroke-width="0.8"/>
<circle cx="183.7" cy="384.0" r="1.9" fill="#fff" stroke="#111" stroke-width="0.8"/>
<circle cx="165.4" cy="325.7" r="1.9" fill="#fff" stroke="#111" stroke-width="0.8"/>
<circle cx="169.3" cy="297.6" r="1.9" fill="#fff" stroke="#111" stroke-width="0.8"/>
<circle cx="241.4" cy="310.0" r="1.9" fill="#fff" stroke="#111" stroke-width="0.8"/>
<circle cx="167.3" cy="373.4" r="2.3" fill="#777777"/>
</g>
<rect x="38.85" y="195.50" width="296.60" height="296.80" fill="none" stroke="#3c3c3c" stroke-width="1"/>
<defs><linearGradient id="cg" x1="0" y1="0" x2="0" y2="1"><stop offset="0" stop-color="#2f62b0"/><stop offset="0.5" stop-color="#1f3f8c"/><stop offset="1" stop-color="#1a2a6a"/></linearGradient><radialGradient id="eg" cx="0.45" cy="0.45" r="0.6"><stop offset="0" stop-color="#6f9a6a"/><stop offset="0.6" stop-color="#2c5a9a"/><stop offset="1" stop-color="#16255c"/></radialGradient><clipPath id="lc"><circle cx="52.9" cy="515.2" r="8.5"/></clipPath></defs>
<text x="3.0" y="521.5" font-size="20.3" font-weight="bold" fill="url(#cg)" textLength="40.3" lengthAdjust="spacingAndGlyphs">CIRA</text>
<circle cx="9.5" cy="514.5" r="4.3" fill="url(#eg)"/><path d="M7.2 512.2q1.4-1.3 2.6-.4q-.3 1.6-1.6 2.2z M10.2 515.5q1.6-.6 2.2.6q-.8 1.5-2 1.2z" fill="#7da05a" opacity="0.85"/><path d="M8.6 511.5q2-.9 3.6.6" stroke="#e8eef5" stroke-width="0.7" fill="none" opacity="0.8"/>
<g clip-path="url(#lc)"><rect x="43" y="505" width="20" height="20" fill="#2e8bd6"/><path d="M43 519 L48.5 513.5 L51 515.5 L55.5 511.5 L59 515 L62 513.5 L62 525 L43 525Z" fill="#4a4c9c"/><rect x="43" y="519.3" width="20" height="1.6" fill="#7f8fd0"/><rect x="43" y="520.9" width="20" height="4" fill="#3b3f8e"/><ellipse cx="49.5" cy="510.6" rx="3.2" ry="1.2" fill="#fff"/><ellipse cx="55" cy="509.4" rx="2.8" ry="1.1" fill="#fff"/></g>
<text x="57.10" y="507.70" font-size="8.59" text-anchor="middle" textLength="23.11" lengthAdjust="spacingAndGlyphs" fill="#303030">140°E</text>
<text x="131.30" y="507.70" font-size="8.59" text-anchor="middle" textLength="23.11" lengthAdjust="spacingAndGlyphs" fill="#303030">145°E</text>
<text x="205.50" y="507.70" font-size="8.59" text-anchor="middle" textLength="23.11" lengthAdjust="spacingAndGlyphs" fill="#303030">150°E</text>
<text x="279.70" y="507.70" font-size="8.59" text-anchor="middle" textLength="23.11" lengthAdjust="spacingAndGlyphs" fill="#303030">155°E</text>
<text x="35.25" y="260.70" font-size="8.81" text-anchor="end" textLength="18.78" lengthAdjust="spacingAndGlyphs" fill="#303030">10°S</text>
<text x="35.25" y="335.05" font-size="8.81" text-anchor="end" textLength="18.78" lengthAdjust="spacingAndGlyphs" fill="#303030">15°S</text>
<text x="35.25" y="409.40" font-size="8.81" text-anchor="end" textLength="18.78" lengthAdjust="spacingAndGlyphs" fill="#303030">20°S</text>
<text x="35.25" y="483.75" font-size="8.81" text-anchor="end" textLength="18.78" lengthAdjust="spacingAndGlyphs" fill="#303030">25°S</text>
<path d="M44.85 203.90H58.45" stroke="#1a1a1a" stroke-width="2.0" fill="none"/>
<text x="66.95" y="206.60" font-size="8.36" text-anchor="start" textLength="18.97" lengthAdjust="spacingAndGlyphs" fill="#303030">BEST</text>
<path d="M44.85 212.90H58.45" stroke="#e41a1c" stroke-width="2.0" fill="none"/>
<text x="66.95" y="215.60" font-size="8.36" text-anchor="start" textLength="14.56" lengthAdjust="spacingAndGlyphs" fill="#303030">GFS</text>
<path d="M44.85 221.90H58.45" stroke="#f2c013" stroke-width="2.0" fill="none"/>
<text x="66.95" y="224.60" font-size="8.36" text-anchor="start" textLength="19.49" lengthAdjust="spacingAndGlyphs" fill="#303030">CTCX</text>
<path d="M44.85 230.90H58.45" stroke="#377eb8" stroke-width="2.0" fill="none"/>
<text x="66.95" y="233.60" font-size="8.36" text-anchor="start" textLength="22.28" lengthAdjust="spacingAndGlyphs" fill="#303030">HWRF</text>
<path d="M44.85 239.90H58.45" stroke="#777777" stroke-width="2.0" fill="none"/>
<text x="66.95" y="242.60" font-size="8.36" text-anchor="start" textLength="19.19" lengthAdjust="spacingAndGlyphs" fill="#303030">JTWC</text>
<text x="331.05" y="206.60" font-size="10.36" text-anchor="end" textLength="28.48" lengthAdjust="spacingAndGlyphs" fill="#262626" font-weight="bold">Track</text>
</svg>
</body></html>
